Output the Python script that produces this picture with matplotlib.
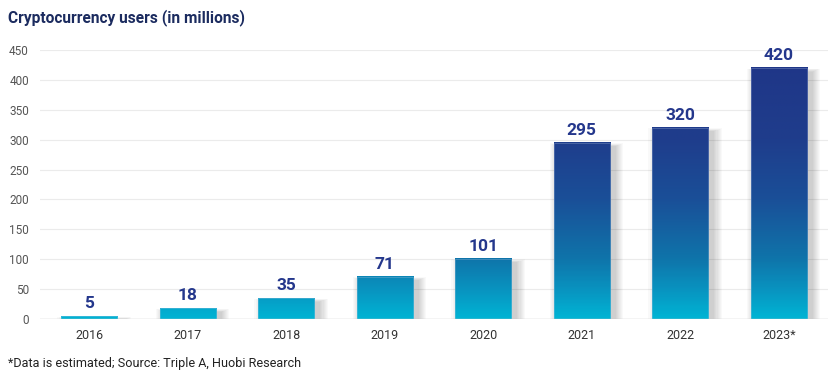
import matplotlib.pyplot as plt
import numpy as np
from matplotlib.colors import LinearSegmentedColormap
from matplotlib.patches import Rectangle

plt.rcParams['font.family'] = ['Roboto', 'DejaVu Sans']

years = ["2016", "2017", "2018", "2019", "2020", "2021", "2022", "2023*"]
users = [5, 18, 35, 71, 101, 295, 320, 420]

# colour by absolute height: cyan at 0, navy from ~300 up
ymax = 450
stops = [(0, "#00b4d4"), (50, "#0992bf"), (100, "#0f74aa"), (200, "#1a4f98"),
         (300, "#1f3d8c"), (450, "#1f3587")]
cmap = LinearSegmentedColormap.from_list("grad", [(v / ymax, c) for v, c in stops])

fig = plt.figure(figsize=(8.3, 3.84), dpi=100)
ax = fig.add_axes([40 / 830, 65 / 384, 788 / 830, 269 / 384])

x = np.arange(len(years))
w = 0.57
ax.set_xlim(-0.5, len(years) - 0.5)
ax.set_ylim(0, ymax)

for yv in range(50, 451, 50):
    ax.axhline(yv, color="#ebebeb", linewidth=0.8, zorder=0)
ax.axhline(0, color="#c8c8c8", linewidth=1.0, zorder=4)

for xi, v in zip(x, users):
    # soft shadow, mostly to the right
    for k in range(8):
        pad = 0.011 * (k + 1)
        ax.add_patch(Rectangle((xi - w / 2 + 0.05 - pad, 0), w + 2 * pad,
                               max(v - 6 + 0.7 * k, 0.5), color="black",
                               alpha=0.022, linewidth=0, zorder=1))
    grad = np.linspace(v, 0, 200).reshape(-1, 1) / ymax
    ax.imshow(grad, cmap=cmap, vmin=0, vmax=1, aspect="auto",
              extent=(xi - w / 2, xi + w / 2, 0, v), zorder=2,
              interpolation="bilinear")
    ax.add_patch(Rectangle((xi - w / 2, 0), w, v, fill=False,
                           edgecolor="#b8c8e4", alpha=0.5, linewidth=0.4,
                           zorder=3))
    ax.text(xi, v + 8, str(v), ha="center", va="bottom", fontsize=12.5,
            fontweight="semibold", color="#24378c", zorder=5)

ax.set_xlim(-0.5, len(years) - 0.5)
ax.set_ylim(0, ymax)
ax.set_xticks(x)
ax.set_xticklabels(years, fontsize=9, color="#333333")
ax.set_yticks(range(0, 451, 50))
ax.tick_params(axis="y", labelsize=8.5, labelcolor="#555555", length=0, pad=8)
ax.tick_params(axis="x", length=0, pad=7)
for s in ax.spines.values():
    s.set_visible(False)

fig.text(8 / 830, 1 - 18 / 384, "Cryptocurrency users (in millions)",
         fontsize=11.2, fontweight="bold", color="#1b2b5f", va="center")
fig.text(8 / 830, 1 - 364 / 384, "*Data is estimated; Source: Triple A, Huobi Research",
         fontsize=9.1, color="#222222", va="center")

fig.savefig("out.png", dpi=100)
